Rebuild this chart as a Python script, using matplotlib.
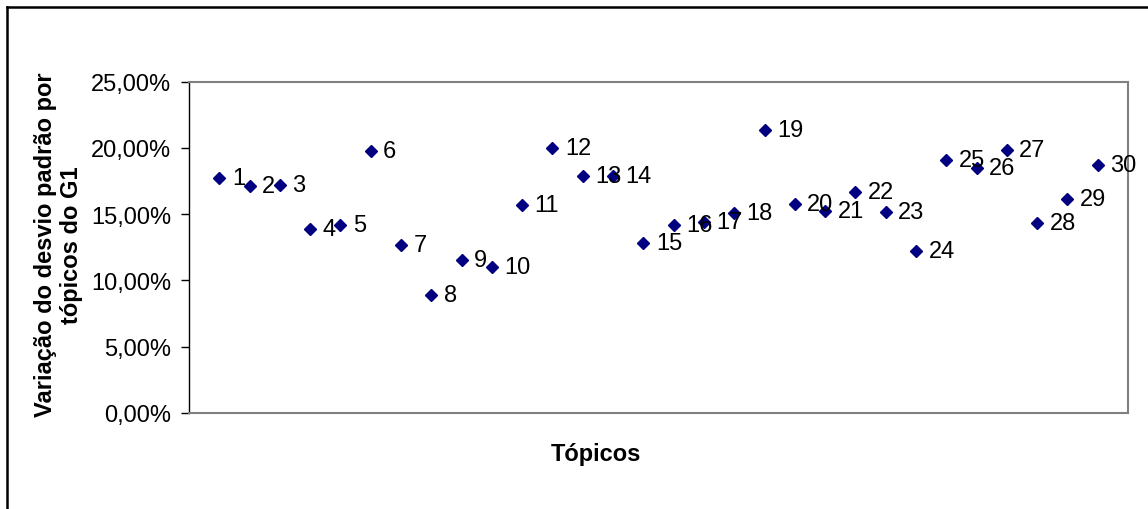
import matplotlib
matplotlib.use("Agg")
import matplotlib.pyplot as plt
from matplotlib.ticker import FuncFormatter, MultipleLocator
from matplotlib.lines import Line2D

plt.rcParams['font.family'] = ['Liberation Sans', 'DejaVu Sans']

# tópicos e variação do desvio padrão (%)
topicos = list(range(1, 31))
variacao = [17.75, 17.10, 17.17, 13.84, 14.14, 19.74, 12.63, 8.87, 11.54, 11.04,
            15.70, 19.97, 17.90, 17.87, 12.81, 14.19, 14.39, 15.08, 21.33, 15.78,
            15.23, 16.64, 15.13, 12.20, 19.06, 18.46, 19.82, 14.34, 16.13, 18.68]
rotulos = [str(t) for t in topicos]

fig = plt.figure(figsize=(11.48, 5.10), dpi=100)
ax = fig.add_axes([189 / 1148, 1 - 413.7 / 510, (1128 - 189) / 1148, (413.7 - 82.7) / 510])

ax.plot(topicos, variacao, linestyle='none', marker='D', markersize=6.3,
        color='#000080')
for x, y, r in zip(topicos, variacao, rotulos):
    ax.annotate(r, (x, y), xytext=(9, 0), textcoords='offset points',
                va='center', ha='left', fontsize=17)

ax.set_xlim(0, 31)
ax.set_ylim(0, 25)
ax.yaxis.set_major_locator(MultipleLocator(5))
ax.yaxis.set_major_formatter(FuncFormatter(lambda v, p: f"{v:.2f}%".replace('.', ',')))
ax.set_xticks([])
ax.tick_params(axis='y', direction='out', length=6, width=1, pad=7, labelsize=17)

for s in ['top', 'right', 'bottom']:
    ax.spines[s].set_color('#808080')
    ax.spines[s].set_linewidth(1.5)
ax.spines['left'].set_color('black')
ax.spines['left'].set_linewidth(1)

ax.set_ylabel("Variação do desvio padrão por\ntópicos do G1", fontsize=17,
              fontweight='bold', linespacing=1.15)
ax.yaxis.set_label_coords(-0.113, 0.51)
fig.text(596 / 1148, 1 - 455 / 510, "Tópicos", fontsize=17, fontweight='bold',
         ha='center', va='center')

# moldura externa do gráfico
fig.add_artist(Line2D([7 / 1148, 7 / 1148], [0, 1 - 8 / 510], transform=fig.transFigure,
                      color='black', linewidth=1.8))
fig.add_artist(Line2D([7 / 1148, 1], [1 - 8 / 510, 1 - 8 / 510], transform=fig.transFigure,
                      color='black', linewidth=1.8))

fig.savefig("out.png", dpi=100)
